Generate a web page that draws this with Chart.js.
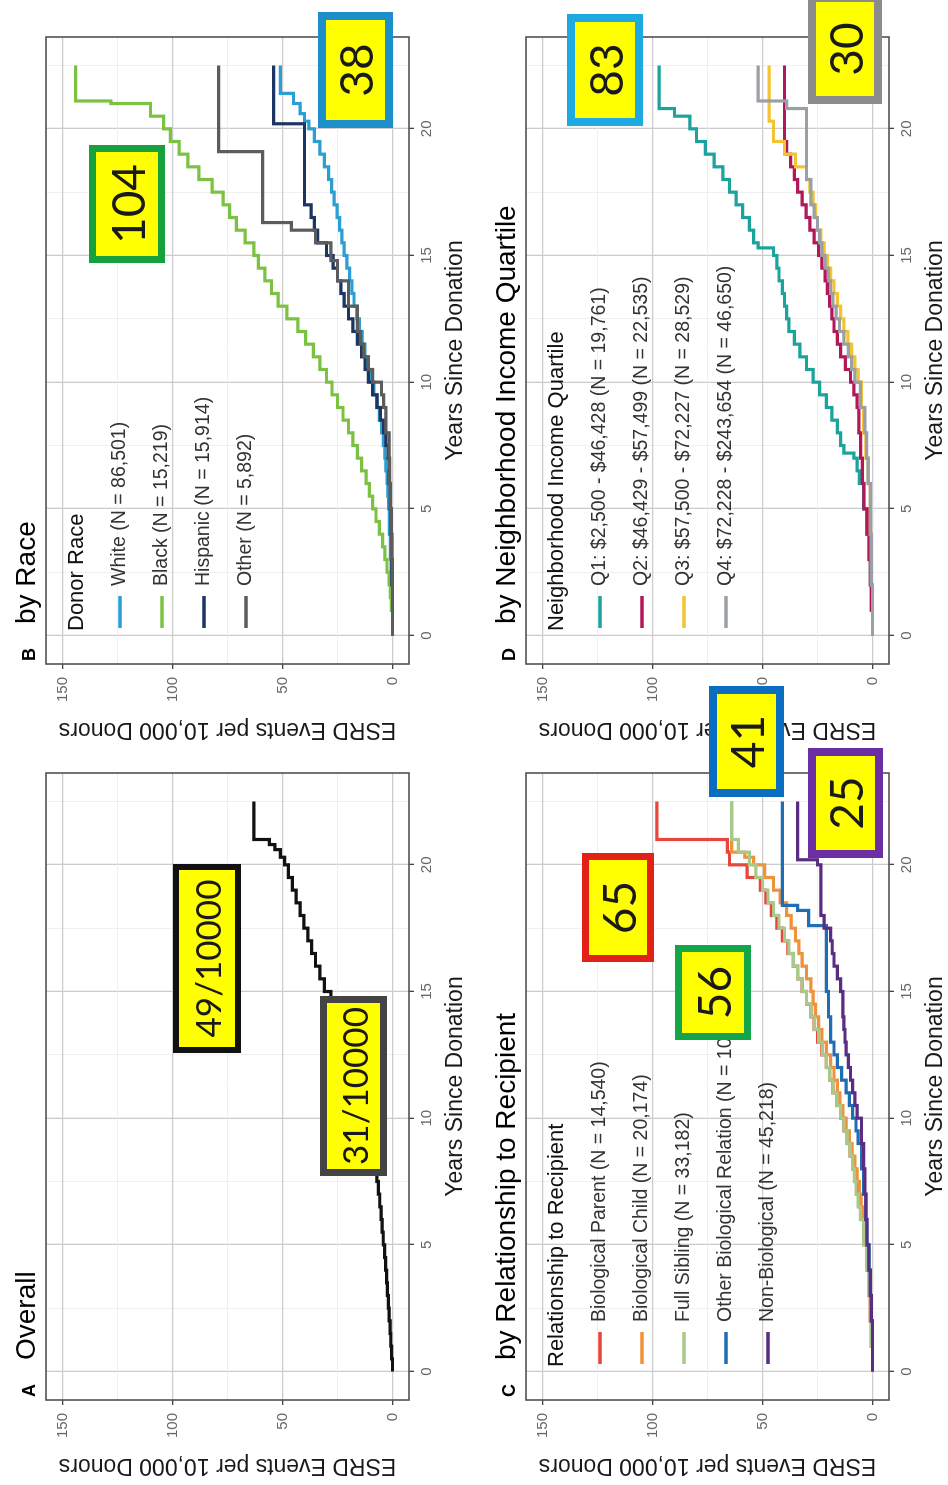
<!DOCTYPE html>
<html>
<head>
<meta charset="utf-8">
<title>ESRD after living kidney donation</title>
<script src="https://cdn.jsdelivr.net/npm/chart.js@4.4.1/dist/chart.umd.min.js"></script>
<style>
  html, body { margin: 0; padding: 0; background: #fff; overflow: hidden; }
  /* the four-panel figure is laid out landscape and turned a quarter turn */
  #figure {
    position: absolute; left: 0; top: 0; width: 1485px; height: 948px; overflow: hidden;
    background: #fff; transform-origin: 0 0; transform: translateY(1485px) rotate(-90deg);
  }
  #figure canvas { position: absolute; }
  .note {
    position: absolute; box-sizing: border-box; background: #ffff00; z-index: 5;
    display: flex; align-items: center; justify-content: center; white-space: nowrap;
    font-family: Lato, "Liberation Sans", Arial, sans-serif; color: #1a1a1a;
  }
</style>
</head>
<body>
<div id="figure">
  <canvas id="panelA" width="736" height="480" style="left:0;top:0"></canvas>
  <canvas id="panelB" width="736" height="480" style="left:736px;top:0"></canvas>
  <canvas id="panelC" width="736" height="480" style="left:0;top:480px"></canvas>
  <canvas id="panelD" width="736" height="480" style="left:736px;top:480px"></canvas>
</div>
<script>
// axis ticks (minor ticks carry no label)
const yearTicks = [0, 2.5, 5, 7.5, 10, 12.5, 15, 17.5, 20, 22.5];
const esrdTicks = [0, 25, 50, 75, 100, 125, 150];

// A - overall cumulative incidence
const overallYears = [0, 0.5, 1, 1.5, 2, 2.5, 3, 3.5, 4, 4.5, 5, 5.5, 6, 6.5, 7, 7.5, 8, 8.5, 9, 9.5, 10, 10.5, 11, 11.5, 12, 12.5, 13, 13.5, 14, 14.5, 15, 15.5, 16, 16.5, 17, 17.5, 18, 18.5, 19, 19.5, 20, 20.3, 20.6, 20.8, 21, 22.5];
const overallEsrd = [0, 0.4, 0.8, 1.1, 1.5, 1.9, 2.3, 2.7, 3.1, 3.6, 4.2, 4.7, 5.2, 5.8, 6.4, 7.1, 7.9, 8.8, 9.8, 10.9, 12, 13.2, 14.5, 15.8, 17.2, 18.8, 20.5, 22.5, 25, 28, 31, 33, 35, 36.8, 38.5, 40.3, 42, 43.8, 45.5, 47.3, 49, 51, 53.5, 56, 63, 63];

// B - by donor race
const whiteYears = [0, 1, 2, 3, 4, 5, 5.5, 6, 6.5, 7, 7.5, 8, 8.5, 9, 9.5, 10, 10.5, 11, 11.5, 12, 12.5, 13, 13.5, 14, 14.5, 15, 15.5, 16, 16.5, 17, 17.5, 18, 18.5, 19, 19.5, 20, 20.3, 20.6, 21, 21.4, 22.5];
const whiteEsrd = [0, 0.3, 0.6, 1, 1.4, 1.8, 2.1, 2.5, 3, 3.5, 4.2, 5, 6, 7.2, 8.5, 10, 11.3, 12.5, 13.8, 15, 16.2, 17.5, 18.5, 19.5, 20.7, 22, 23, 24, 25.2, 26.5, 27.7, 29, 31, 33, 35.5, 38, 40, 42, 45, 51, 51];
const blackYears = [0, 1, 1.5, 2, 2.5, 3, 3.5, 4, 4.5, 5, 5.5, 6, 6.5, 7, 7.5, 8, 8.5, 9, 9.5, 10, 10.5, 11, 11.5, 12, 12.5, 13, 13.5, 14, 14.5, 15, 15.5, 16, 16.5, 17, 17.5, 18, 18.5, 19, 19.5, 20, 20.5, 21, 21.1, 22.5];
const blackEsrd = [0, 0.5, 1, 1.5, 2.5, 3.5, 4.5, 6, 7.5, 9, 10.5, 12, 14, 16, 18, 20, 22.5, 25, 27.5, 30, 33, 36, 39.5, 43, 48, 52, 55, 58, 61, 63, 67, 71, 74, 77, 82, 88, 93, 97, 101, 104, 110, 128, 144, 144];
const hispanicYears = [0, 2, 4, 5, 6, 7, 7.5, 8, 8.5, 9, 9.5, 10, 10.5, 11, 11.5, 12, 12.5, 13, 13.5, 14, 14.5, 15, 15.5, 16, 16.5, 17, 20.2, 22.5];
const hispanicEsrd = [0, 0.3, 0.6, 1, 1.5, 2, 3, 4, 5.5, 7, 9, 11, 12.5, 14, 16, 18, 20, 22, 23.5, 25, 27, 30, 34, 35.5, 37, 40, 54, 54];
const otherRaceYears = [0, 3, 5, 6, 7, 8, 9, 9.5, 10, 10.5, 11, 11.5, 12, 13, 14, 14.8, 15.5, 16, 16.3, 19.1, 22.5];
const otherRaceEsrd = [0, 0.5, 1, 1.3, 1.5, 3, 4, 5, 9, 11, 13, 14.5, 16, 20, 25, 28, 35, 46, 59, 79, 79];

// C - by relationship to recipient
const parentYears = [0, 1, 2, 3, 4, 5, 6, 6.5, 7, 7.5, 8, 8.5, 9, 9.5, 10, 10.5, 11, 11.5, 12, 12.5, 13, 13.5, 14, 14.5, 15, 15.5, 16, 16.5, 17, 17.5, 18, 18.5, 19, 19.5, 20, 20.5, 21, 22.5];
const parentEsrd = [0, 0.5, 1, 1.8, 2.5, 3.5, 5, 6, 7, 8, 9, 10.2, 11.5, 13, 14.5, 16.2, 18, 19.5, 21, 23, 25, 26.5, 28, 30, 32, 34, 36, 38.5, 41, 43.5, 46, 48.5, 51, 57, 65, 66, 98, 98];
const childYears = [0, 1, 2, 3, 4, 5, 6, 6.5, 7, 7.5, 8, 8.5, 9, 9.5, 10, 10.5, 11, 11.5, 12, 12.5, 13, 13.5, 14, 14.5, 15, 15.5, 16, 16.5, 17, 17.5, 18, 18.5, 19, 19.5, 20, 20.3, 20.5, 22.5];
const childEsrd = [0, 0.5, 1, 1.5, 2, 3, 4.5, 5.2, 6, 7, 8, 9.2, 10.5, 12, 13.5, 14.8, 16, 17.5, 19, 21, 23, 24.5, 26, 27, 28, 30, 32, 33.5, 35, 37, 39, 42, 45, 49, 54, 58, 64, 64];
const siblingYears = [0, 1, 2, 3, 4, 5, 6, 6.5, 7, 7.5, 8, 8.5, 9, 9.5, 10, 10.5, 11, 11.5, 12, 12.5, 13, 13.5, 14, 14.5, 15, 15.5, 16, 16.5, 17, 17.5, 18, 18.5, 19, 19.5, 20, 20.5, 21, 22.5];
const siblingEsrd = [0, 0.5, 1, 1.8, 2.5, 4, 5.5, 6.5, 7.5, 8.2, 9, 10.2, 11.5, 13, 14.5, 16.2, 18, 19.5, 21, 22.8, 24.5, 26.3, 28, 30, 32, 34, 36, 38, 40, 42.5, 45, 47.5, 50, 53, 56, 61, 64, 64];
const otherBioYears = [0, 2, 3, 4, 5, 6, 7, 8, 9, 9.5, 10, 10.5, 11, 11.5, 12, 12.5, 13, 14, 15, 17.6, 18.2, 18.4, 22.5];
const otherBioEsrd = [0, 0.5, 1, 1.5, 2.5, 3, 4, 5, 6.5, 7.5, 9, 10.5, 12, 14, 16, 17.5, 19, 20, 21, 29, 34, 41, 41];
const nonBioYears = [0, 2, 3, 4, 5, 6, 7, 8, 9, 10, 10.5, 11, 11.5, 12, 12.5, 13, 13.5, 14, 15, 15.5, 16, 16.5, 17, 17.5, 18, 20, 20.2, 22.5];
const nonBioEsrd = [0, 0.5, 1, 1.7, 2.5, 3, 3.5, 4, 5, 7, 8, 9, 10, 11, 12, 12.5, 13, 13.5, 14.5, 16, 17.5, 18.3, 19, 22, 23.5, 25, 34, 34];

// D - by neighborhood income quartile
const q1Years = [0, 1, 2, 3, 4, 5, 6, 6.5, 7, 7.2, 7.5, 8, 8.5, 9, 9.5, 10, 10.5, 11, 11.5, 12, 12.5, 13, 13.5, 14, 14.5, 15, 15.3, 15.5, 16, 16.5, 17, 17.5, 18, 18.5, 19, 19.5, 20, 20.5, 20.8, 22.5];
const q1Esrd = [0, 0.5, 1, 1.5, 2.7, 4, 6, 7, 8.5, 13, 14.5, 16, 18.5, 21, 24, 27, 30, 33, 35.5, 38, 39, 40, 41, 42.5, 43.5, 45, 52, 54, 56, 59, 62, 65, 68, 72, 76, 80, 83, 90, 97, 97];
const q2Years = [0, 1, 2, 3, 4, 5, 6, 7, 8, 9, 9.5, 10, 10.5, 11, 11.5, 12, 12.5, 13, 13.5, 14, 14.5, 15, 15.5, 16, 16.5, 17, 17.5, 18, 18.5, 19, 19.5, 22.5];
const q2Esrd = [0, 0.5, 1, 1.5, 2.3, 3.9, 4.6, 5.4, 6.2, 7, 8.5, 10, 12.3, 14.5, 16, 17.5, 18.5, 19.5, 20.5, 21.5, 23, 24.5, 26.5, 28.5, 30.2, 32, 34, 35.5, 37.2, 39, 40, 40];
const q3Years = [0, 2, 4, 6, 7, 8, 9, 10, 10.5, 11, 11.5, 12, 12.5, 13, 13.5, 14, 14.5, 15, 15.5, 16, 16.5, 17, 17.5, 18, 18.5, 19, 19.5, 20.3, 22.5];
const q3Esrd = [0, 0.5, 1, 2, 3, 4, 5, 6.5, 8, 9.5, 11.2, 13, 14.5, 16, 17.5, 19, 20.5, 22, 23.5, 25, 26, 27, 28.5, 30, 35, 40, 45, 47, 47];
const q4Years = [0, 2, 4, 6, 7, 8, 9, 10, 10.5, 11, 11.5, 12, 12.5, 13, 13.5, 14, 14.5, 15, 15.5, 16, 16.5, 17, 18, 20.8, 21.1, 22.5];
const q4Esrd = [0, 0.5, 1, 2, 2.7, 3.5, 5.5, 8, 9.5, 11, 13, 15, 16.5, 18, 19, 20, 21.5, 23, 24, 25, 26.5, 28, 30, 39, 52, 52];

const FONT = '"Liberation Sans", Arial, sans-serif';
Chart.defaults.font.family = FONT;

// panel letter + title above the plot
const panelTitle = {
  id: 'panelTitle',
  afterDraw(chart, args, opts) {
    const ctx = chart.ctx;
    ctx.save();
    ctx.fillStyle = '#000';
    ctx.textBaseline = 'alphabetic';
    ctx.font = 'bold 18px ' + FONT;
    ctx.fillText(opts.tag, 88, 35);
    ctx.font = '28px ' + FONT;
    ctx.fillText(opts.text, 125, 35);
    ctx.restore();
  }
};

// dark frame round the plotting region
const plotFrame = {
  id: 'plotFrame',
  afterDatasetsDraw(chart) {
    const { ctx, chartArea: a } = chart;
    ctx.save();
    ctx.strokeStyle = '#505050';
    ctx.lineWidth = 1.6;
    ctx.strokeRect(a.left, a.top, a.right - a.left, a.bottom - a.top);
    ctx.restore();
  }
};

// legend sitting in the top-left corner of the plot
const insideLegend = {
  id: 'insideLegend',
  afterDatasetsDraw(chart, args, opts) {
    if (!opts.title) return;
    const { ctx, chartArea: a } = chart;
    ctx.save();
    ctx.textBaseline = 'middle';
    ctx.fillStyle = '#111';
    ctx.font = '22px ' + FONT;
    ctx.fillText(opts.title, a.left + 33, a.top + 31);
    ctx.font = '19.5px ' + FONT;
    chart.data.datasets.forEach((ds, i) => {
      const y = a.top + 74 + i * 42;
      ctx.strokeStyle = ds.borderColor;
      ctx.lineWidth = 3.5;
      ctx.beginPath();
      ctx.moveTo(a.left + 36, y);
      ctx.lineTo(a.left + 68, y);
      ctx.stroke();
      ctx.fillStyle = '#333';
      ctx.fillText(ds.label, a.left + 78, y);
    });
    ctx.restore();
  }
};

function isMajor(v, step) {
  return Math.abs(v / step - Math.round(v / step)) < 1e-6;
}

function drawPanel(canvasId, tag, title, legendTitle, series) {
  const datasets = series.map((s, i) => ({
    label: s.label,
    data: s.years.map((t, k) => ({ x: t, y: s.esrd[k] })),
    borderColor: s.color,
    backgroundColor: s.color,
    borderWidth: 3.2,
    stepped: 'before',
    pointRadius: 0,
    fill: false,
    order: -i
  }));

  return new Chart(document.getElementById(canvasId), {
    type: 'line',
    data: { datasets },
    plugins: [panelTitle, plotFrame, insideLegend],
    options: {
      responsive: false,
      animation: false,
      events: [],
      layout: { padding: { top: 46, right: 24, left: 0, bottom: 0 } },
      plugins: {
        legend: { display: false },
        tooltip: { enabled: false },
        panelTitle: { tag, text: title },
        insideLegend: { title: legendTitle }
      },
      scales: {
        x: {
          type: 'linear',
          min: -1.125,
          max: 23.625,
          afterBuildTicks: (scale) => { scale.ticks = yearTicks.map(v => ({ value: v })); },
          afterFit: (scale) => { scale.height = 71; },
          ticks: {
            autoSkip: false,
            maxRotation: 0,
            padding: 4,
            color: '#666',
            font: { size: 15 },
            callback: (v) => (isMajor(v, 5) ? String(v) : '')
          },
          grid: {
            color: (c) => (isMajor(c.tick.value, 5) ? '#cccccc' : '#ececec'),
            lineWidth: (c) => (isMajor(c.tick.value, 5) ? 1.3 : 0.8),
            tickColor: (c) => (isMajor(c.tick.value, 5) ? '#444' : 'rgba(0,0,0,0)'),
            tickLength: 5
          },
          border: { display: false },
          title: {
            display: true,
            text: 'Years Since Donation',
            color: '#1a1a1a',
            font: { size: 23 },
            padding: { top: 0, bottom: 11 }
          }
        },
        y: {
          type: 'linear',
          min: -7.5,
          max: 157.5,
          afterBuildTicks: (scale) => { scale.ticks = esrdTicks.map(v => ({ value: v })); },
          afterFit: (scale) => { scale.width = 85; },
          ticks: {
            autoSkip: false,
            padding: 8,
            color: '#666',
            font: { size: 15 },
            callback: (v) => (isMajor(v, 50) ? String(v) : '')
          },
          grid: {
            color: (c) => (isMajor(c.tick.value, 50) ? '#cccccc' : '#ececec'),
            lineWidth: (c) => (isMajor(c.tick.value, 50) ? 1.3 : 0.8),
            tickColor: (c) => (isMajor(c.tick.value, 50) ? '#444' : 'rgba(0,0,0,0)'),
            tickLength: 5
          },
          border: { display: false },
          title: {
            display: true,
            text: 'ESRD Events per 10,000 Donors',
            color: '#1a1a1a',
            font: { size: 23 },
            padding: { top: 6, bottom: 0 }
          }
        }
      }
    }
  });
}

drawPanel('panelA', 'A', 'Overall', null, [
  { label: 'Overall', years: overallYears, esrd: overallEsrd, color: '#111111' }
]);

drawPanel('panelB', 'B', 'by Race', 'Donor Race', [
  { label: 'White (N = 86,501)', years: whiteYears, esrd: whiteEsrd, color: '#2b9fd3' },
  { label: 'Black (N = 15,219)', years: blackYears, esrd: blackEsrd, color: '#7cc242' },
  { label: 'Hispanic (N = 15,914)', years: hispanicYears, esrd: hispanicEsrd, color: '#1c3664' },
  { label: 'Other (N = 5,892)', years: otherRaceYears, esrd: otherRaceEsrd, color: '#5c5c5c' }
]);

drawPanel('panelC', 'C', 'by Relationship to Recipient', 'Relationship to Recipient', [
  { label: 'Biological Parent (N = 14,540)', years: parentYears, esrd: parentEsrd, color: '#e8453c' },
  { label: 'Biological Child (N = 20,174)', years: childYears, esrd: childEsrd, color: '#f0923a' },
  { label: 'Full Sibling (N = 33,182)', years: siblingYears, esrd: siblingEsrd, color: '#a9c98a' },
  { label: 'Other Biological Relation (N = 10,412)', years: otherBioYears, esrd: otherBioEsrd, color: '#1f6db3' },
  { label: 'Non-Biological (N = 45,218)', years: nonBioYears, esrd: nonBioEsrd, color: '#5a2d82' }
]);

drawPanel('panelD', 'D', 'by Neighborhood Income Quartile', 'Neighborhood Income Quartile', [
  { label: 'Q1: $2,500 - $46,428 (N = 19,761)', years: q1Years, esrd: q1Esrd, color: '#1ba39c' },
  { label: 'Q2: $46,429 - $57,499 (N = 22,535)', years: q2Years, esrd: q2Esrd, color: '#b3175a' },
  { label: 'Q3: $57,500 - $72,227 (N = 28,529)', years: q3Years, esrd: q3Esrd, color: '#f3c431' },
  { label: 'Q4: $72,228 - $243,654 (N = 46,650)', years: q4Years, esrd: q4Esrd, color: '#9aa0a6' }
]);

// highlighted call-outs laid over the panels
const notes = [
  { text: '49/10000', left: 432, top: 173, width: 189, height: 68, border: '#111111', bw: 6, size: 35 },
  { text: '31/10000', left: 309, top: 320, width: 180, height: 67, border: '#444444', bw: 7, size: 35 },
  { text: '104', left: 1222, top: 89, width: 118, height: 76, border: '#17a13c', bw: 7, size: 46 },
  { text: '38', left: 1357, top: 318, width: 116, height: 75, border: '#1c8fcb', bw: 8, size: 46 },
  { text: '65', left: 523, top: 582, width: 109, height: 72, border: '#e32119', bw: 7, size: 46 },
  { text: '56', left: 445, top: 675, width: 95, height: 76, border: '#12a549', bw: 7, size: 46 },
  { text: '41', left: 688, top: 709, width: 111, height: 75, border: '#0b6dbf', bw: 8, size: 46 },
  { text: '25', left: 627, top: 808, width: 110, height: 75, border: '#6b2fa3', bw: 8, size: 46 },
  { text: '83', left: 1359, top: 567, width: 112, height: 76, border: '#1ea9e1', bw: 8, size: 46 },
  { text: '30', left: 1381, top: 808, width: 110, height: 74, border: '#8c8c8c', bw: 8, size: 46 }
];

const figure = document.getElementById('figure');
notes.forEach(n => {
  const el = document.createElement('div');
  el.className = 'note';
  el.textContent = n.text;
  el.style.left = n.left + 'px';
  el.style.top = n.top + 'px';
  el.style.width = n.width + 'px';
  el.style.height = n.height + 'px';
  el.style.border = n.bw + 'px solid ' + n.border;
  el.style.fontSize = n.size + 'px';
  figure.appendChild(el);
});
</script>
</body>
</html>
